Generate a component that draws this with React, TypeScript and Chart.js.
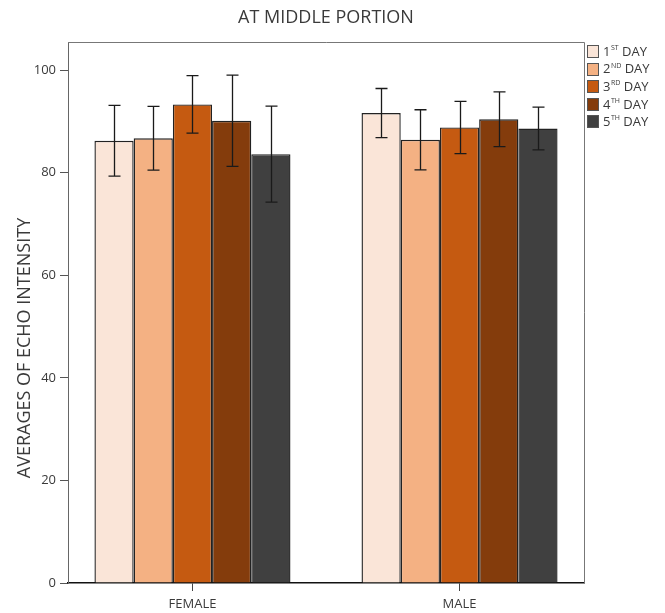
import React, { useEffect, useRef } from 'react';
import { Chart, registerables } from 'chart.js';

Chart.register(...registerables);

// ---------- data ----------
const categories = ['FEMALE', 'MALE'];
const dayNumbers = ['1', '2', '3', '4', '5'];
const daySuffixes = ['ST', 'ND', 'RD', 'TH', 'TH'];
const dayWord = 'DAY';
const dayColors = ['#FAE5D8', '#F4B183', '#C55A11', '#843C0C', '#404040'];

const day1 = [86.2, 91.6];
const day2 = [86.7, 86.4];
const day3 = [93.3, 88.8];
const day4 = [90.1, 90.4];
const day5 = [83.6, 88.6];

const day1Err = [6.9, 4.8];
const day2Err = [6.2, 5.85];
const day3Err = [5.6, 5.1];
const day4Err = [8.9, 5.35];
const day5Err = [9.35, 4.15];

const yTicks = [0, 20, 40, 60, 80, 100];
const titleText = 'AT MIDDLE PORTION';
const yAxisTitle = 'AVERAGES OF ECHO INTENSITY';

const seriesValues = [day1, day2, day3, day4, day5];
const seriesErrors = [day1Err, day2Err, day3Err, day4Err, day5Err];

const FONT = '"Open Sans", "DejaVu Sans", sans-serif';
const TEXT = '#3a3a3a';

const customPlugin = {
  id: 'customDecor',
  afterDatasetsDraw(chart: any) {
    const ctx = chart.ctx;
    const yScale = chart.scales.y;
    ctx.save();
    ctx.strokeStyle = '#1a1a1a';
    ctx.lineWidth = 1.3;
    chart.data.datasets.forEach((ds: any, i: number) => {
      const meta = chart.getDatasetMeta(i);
      const errs = seriesErrors[i];
      meta.data.forEach((el: any, j: number) => {
        const v = seriesValues[i][j];
        const e = errs[j];
        const x = Math.round(el.x) + 0.5;
        const yt = yScale.getPixelForValue(v + e);
        const yb = yScale.getPixelForValue(v - e);
        ctx.beginPath();
        ctx.moveTo(x, yt);
        ctx.lineTo(x, yb);
        ctx.moveTo(x - 6, yt);
        ctx.lineTo(x + 6, yt);
        ctx.moveTo(x - 6, yb);
        ctx.lineTo(x + 6, yb);
        ctx.stroke();
      });
    });
    ctx.restore();
  },
  afterDraw(chart: any) {
    const ctx = chart.ctx;
    const a = chart.chartArea;
    ctx.save();
    // frame (top & right)
    ctx.strokeStyle = '#777';
    ctx.lineWidth = 1;
    ctx.beginPath();
    ctx.moveTo(a.left, Math.round(a.top) + 0.5);
    ctx.lineTo(Math.round(a.right) + 0.5, Math.round(a.top) + 0.5);
    ctx.lineTo(Math.round(a.right) + 0.5, a.bottom);
    ctx.stroke();

    // title
    ctx.fillStyle = TEXT;
    ctx.font = `18px ${FONT}`;
    ctx.textAlign = 'center';
    ctx.textBaseline = 'middle';
    ctx.fillText(titleText, (a.left + a.right) / 2, 18);

    // y axis title
    ctx.save();
    ctx.translate(25, 348);
    ctx.rotate(-Math.PI / 2);
    ctx.font = `18px ${FONT}`;
    ctx.fillText(yAxisTitle, 0, 0);
    ctx.restore();

    // legend
    const bx = Math.round(a.right) + 3;
    const startY = 51;
    const pitch = 17.6;
    for (let i = 0; i < dayNumbers.length; i++) {
      const cy = startY + i * pitch;
      ctx.fillStyle = dayColors[i];
      ctx.fillRect(bx + 0.5, Math.round(cy - 6) + 0.5, 11, 12);
      ctx.strokeStyle = '#555';
      ctx.lineWidth = 1;
      ctx.strokeRect(bx + 0.5, Math.round(cy - 6) + 0.5, 11, 12);

      let tx = bx + 16;
      ctx.fillStyle = TEXT;
      ctx.textAlign = 'left';
      ctx.textBaseline = 'middle';
      ctx.font = `13px ${FONT}`;
      ctx.fillText(dayNumbers[i], tx, cy + 1);
      tx += ctx.measureText(dayNumbers[i]).width + 0.5;
      ctx.font = `7px ${FONT}`;
      ctx.fillText(daySuffixes[i], tx, cy - 3);
      tx += ctx.measureText(daySuffixes[i]).width;
      ctx.font = `13px ${FONT}`;
      ctx.fillText(' ' + dayWord, tx, cy + 1);
    }
    ctx.restore();
  },
};

export default function App() {
  const canvasRef = useRef<HTMLCanvasElement | null>(null);

  useEffect(() => {
    if (!canvasRef.current) return;
    const chart = new Chart(canvasRef.current, {
      type: 'bar',
      data: {
        datasets: seriesValues.map((vals, i) => ({
          label: dayNumbers[i] + daySuffixes[i] + ' ' + dayWord,
          data: vals.map((v, j) => ({ x: j, y: v })),
          backgroundColor: dayColors[i],
          borderColor: '#222',
          borderWidth: 1.4,
          categoryPercentage: 0.734,
          barPercentage: 1.0,
        })),
      },
      options: {
        responsive: false,
        animation: false,
        layout: { padding: { top: 42, right: 81, left: 0, bottom: 0 } },
        plugins: {
          legend: { display: false },
          title: { display: false },
          tooltip: { enabled: false },
        },
        scales: {
          x: {
            type: 'linear',
            offset: false,
            min: -0.466,
            max: 1.466,
            afterBuildTicks: (s: any) => {
              s.ticks = categories.map((_, i) => ({ value: i }));
            },
            afterFit: (s: any) => {
              s.height = 30;
            },
            grid: {
              display: true,
              offset: false,
              drawOnChartArea: false,
              tickLength: 8,
              color: '#444',
            },
            border: { display: true, color: '#111', width: 1.5 },
            ticks: {
              color: TEXT,
              font: { size: 13, family: FONT },
              padding: 5,
              maxRotation: 0,
              autoSkip: false,
              callback: (v: any) => categories[Math.round(Number(v))] ?? '',
            },
          },
          y: {
            min: 0,
            max: 105.46,
            afterBuildTicks: (s: any) => {
              s.ticks = yTicks.map((v) => ({ value: v }));
            },
            afterFit: (s: any) => {
              s.width = 68;
            },
            grid: {
              display: true,
              drawOnChartArea: false,
              tickLength: 8,
              color: '#555',
            },
            border: { display: true, color: '#666', width: 1 },
            ticks: {
              color: TEXT,
              font: { size: 13, family: FONT },
              padding: 4,
            },
            title: { display: false },
          },
        },
      },
      plugins: [customPlugin],
    } as any);
    return () => chart.destroy();
  }, []);

  return (
    <div style={{ position: 'absolute', left: 0, top: 0, width: 665, height: 613, background: '#fff' }}>
      <canvas ref={canvasRef} width={665} height={613} style={{ display: 'block' }} />
    </div>
  );
}
